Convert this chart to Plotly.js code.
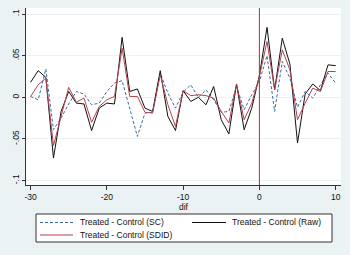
<!DOCTYPE html>
<html>
<head>
<meta charset="utf-8">
<script src="https://cdn.plot.ly/plotly-3.0.1.min.js"></script>
<style>html,body{margin:0;padding:0;background:#EAF2F3;}#chart{width:350px;height:255px;}</style>
</head>
<body>
<div id="chart"></div>
<script>
const periods = [-30,-29,-28,-27,-26,-25,-24,-23,-22,-21,-20,-19,-18,-17,-16,-15,-14,-13,-12,-11,-10,-9,-8,-7,-6,-5,-4,-3,-2,-1,0,1,2,3,4,5,6,7,8,9,10];
const scDiff = [0.001,-0.003,0.034,-0.039,-0.025,-0.008,0.007,0.004,-0.009,-0.007,0.007,0.017,0.020,-0.013,-0.047,-0.019,-0.018,0.029,0.005,-0.013,0.006,0.015,0.000,0.009,-0.003,-0.018,-0.017,0.013,-0.015,0.003,0.019,0.050,-0.017,0.043,0.023,-0.012,0.007,-0.001,0.015,0.029,0.017];
const rawDiff = [0.018,0.032,0.024,-0.073,-0.017,0.007,-0.007,-0.008,-0.040,-0.013,-0.007,-0.008,0.072,0.007,0.010,-0.013,-0.017,0.032,-0.023,-0.040,0.008,-0.005,0.000,-0.009,0.013,-0.027,-0.044,0.016,-0.039,-0.013,0.026,0.084,0.009,0.071,0.040,-0.055,0.004,0.016,0.008,0.039,0.038];
const sdidDiff = [0.001,0.015,0.023,-0.058,-0.023,0.012,-0.006,-0.001,-0.030,-0.011,-0.003,0.001,0.059,0.001,0.001,-0.018,-0.019,0.027,-0.009,-0.035,0.008,0.002,0.003,0.002,-0.001,-0.017,-0.031,0.016,-0.027,-0.007,0.025,0.067,0.009,0.057,0.033,-0.027,-0.007,0.011,0.007,0.031,0.031];
const seriesNames = ['Treated - Control (SC)','Treated - Control (Raw)','Treated - Control (SDID)'];
const xTicks = [-30,-20,-10,0,10];
const xTickText = ['-30','-20','-10','0','10'];
const yTicks = [-0.1,-0.05,0,0.05,0.1];
const yTickText = ['-.1','-.05','0','.05','.1'];
const treatmentStart = 0;

const W = 350, H = 255;
const M = {l:26, r:9, t:8, b:70};
const plotW = W - M.l - M.r, plotH = H - M.t - M.b;
const font = {family:'Liberation Sans, Arial, sans-serif', size:8.5, color:'#111'};
const lineStyles = [
  {color:'#3d6a9a', width:1, dash:'3px,2px'},
  {color:'#111111', width:1, dash:'solid'},
  {color:'#b5424f', width:1, dash:'solid'}
];
const seriesValues = [scDiff, rawDiff, sdidDiff];
const traces = seriesValues.map((vals, i) => ({
  x:periods, y:vals, name:seriesNames[i], type:'scatter', mode:'lines', line:lineStyles[i], showlegend:false
}));

// legend (Stata-style box, two columns) placed in pixel space
const px2x = p => (p - M.l) / plotW;
const px2y = p => (H - M.b - p) / plotH;
const legendBox = {x0:36, x1:332, y0:214, y1:242};
const legendSlots = [
  {sx0:40, sx1:73, tx:78, y:222.5},
  {sx0:192, sx1:226, tx:230, y:222.5},
  {sx0:40, sx1:73, tx:78, y:235}
];
const shapes = [
  {type:'line', xref:'x', yref:'paper', x0:treatmentStart, x1:treatmentStart, y0:0, y1:1,
    line:{color:'#b0284e', width:1}},
  {type:'rect', xref:'paper', yref:'paper', x0:px2x(legendBox.x0), x1:px2x(legendBox.x1),
    y0:px2y(legendBox.y0), y1:px2y(legendBox.y1), fillcolor:'#ffffff', line:{color:'#333', width:1}, layer:'below'}
];
const annotations = [];
legendSlots.forEach((s, i) => {
  shapes.push({type:'line', xref:'paper', yref:'paper', x0:px2x(s.sx0), x1:px2x(s.sx1),
    y0:px2y(s.y), y1:px2y(s.y), line:lineStyles[i]});
  annotations.push({xref:'paper', yref:'paper', x:px2x(s.tx), y:px2y(s.y), text:seriesNames[i],
    showarrow:false, xanchor:'left', yanchor:'middle', font:font});
});

const layout = {
  width:W, height:H,
  paper_bgcolor:'#EAF2F3', plot_bgcolor:'#ffffff',
  margin:{l:M.l, r:M.r, t:M.t, b:M.b, pad:0, autoexpand:false},
  font:font,
  showlegend:false,
  xaxis:{range:[-30.6,10.7], tickvals:xTicks, ticktext:xTickText, ticks:'outside', ticklen:4, tickcolor:'#333',
    showline:true, linecolor:'#333', linewidth:1, showgrid:false, zeroline:false,
    tickfont:font, title:{text:'dif', font:font, standoff:0}},
  yaxis:{range:[-0.1054,0.1073], tickvals:yTicks, ticktext:yTickText, tickangle:-90,
    ticks:'outside', ticklen:3, tickcolor:'#333', showline:true, linecolor:'#333', linewidth:1,
    showgrid:true, gridcolor:'#EAF2F3', gridwidth:1, zeroline:false, tickfont:font},
  shapes:shapes,
  annotations:annotations
};
Plotly.newPlot('chart', traces, layout, {displayModeBar:false, staticPlot:true});
</script>
</body>
</html>
